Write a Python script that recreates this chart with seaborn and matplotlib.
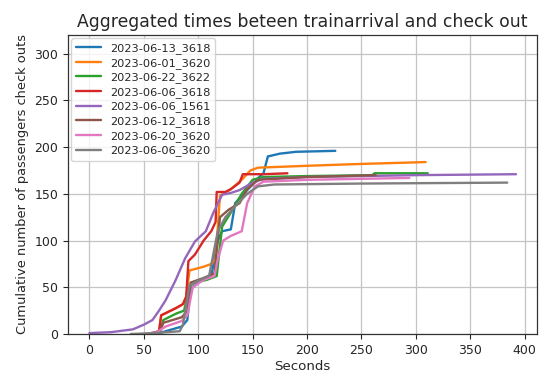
import matplotlib
matplotlib.use("Agg")
import matplotlib.pyplot as plt
import seaborn as sns
import pandas as pd

labels = ["2023-06-13_3618", "2023-06-01_3620", "2023-06-22_3622", "2023-06-06_3618",
          "2023-06-06_1561", "2023-06-12_3618", "2023-06-20_3620", "2023-06-06_3620"]

t_13_3618 = [62, 70, 85, 90, 93, 100, 112, 118, 122, 130, 134, 140, 150, 156, 160, 164, 175, 190, 226]
v_13_3618 = [0, 3, 8, 15, 48, 55, 62, 100, 110, 112, 140, 148, 160, 168, 172, 190, 193, 195, 196]

t_01_3620 = [55, 64, 66, 80, 86, 89, 92, 105, 112, 116, 120, 130, 140, 148, 155, 200, 250, 309]
v_01_3620 = [0, 3, 20, 28, 32, 40, 68, 72, 75, 80, 148, 155, 165, 175, 178, 180, 182, 184]

t_22_3622 = [55, 65, 68, 80, 87, 92, 96, 108, 117, 122, 130, 140, 150, 160, 200, 260, 262, 311]
v_22_3622 = [0, 3, 15, 22, 25, 50, 55, 58, 62, 115, 130, 150, 165, 168, 169, 170, 172, 172]

t_06_3618 = [55, 64, 66, 80, 86, 89, 91, 97, 105, 112, 116, 117, 125, 130, 138, 141, 160, 182]
v_06_3618 = [0, 3, 20, 28, 32, 40, 78, 85, 100, 110, 120, 152, 152, 155, 162, 171, 171, 172]

t_06_1561 = [0, 20, 40, 50, 58, 64, 70, 79, 88, 97, 107, 114, 122, 130, 138, 150, 160, 200, 300, 392]
v_06_1561 = [1, 2, 5, 10, 15, 25, 36, 57, 81, 99, 110, 130, 149, 151, 154, 162, 166, 168, 170, 171]

t_12_3618 = [55, 65, 68, 85, 90, 93, 105, 115, 120, 128, 138, 145, 155, 200, 263]
v_12_3618 = [0, 3, 12, 18, 25, 55, 60, 65, 125, 133, 140, 155, 165, 168, 170]

t_20_3620 = [50, 62, 70, 85, 90, 95, 105, 115, 118, 123, 130, 140, 145, 152, 160, 200, 294]
v_20_3620 = [0, 2, 8, 14, 20, 50, 58, 62, 80, 100, 105, 110, 140, 158, 163, 165, 167]

t_06_3620 = [38, 60, 83, 86, 92, 100, 110, 118, 125, 135, 145, 155, 170, 250, 384]
v_06_3620 = [0, 1, 3, 10, 52, 57, 62, 110, 125, 138, 150, 158, 160, 161, 162]

series_t = [t_13_3618, t_01_3620, t_22_3622, t_06_3618, t_06_1561, t_12_3618, t_20_3620, t_06_3620]
series_v = [v_13_3618, v_01_3620, v_22_3622, v_06_3618, v_06_1561, v_12_3618, v_20_3620, v_06_3620]

rows = []
for lab, ts, vs in zip(labels, series_t, series_v):
    for i, (t, v) in enumerate(zip(ts, vs)):
        rows.append({"series": lab, "Seconds": t, "count": v, "order": i})
df = pd.DataFrame(rows)

sns.set_theme(style="ticks", rc={"axes.grid": True, "grid.color": "#c4c4c4", "grid.linewidth": 0.9})
plt.rcParams["font.family"] = ["DejaVu Sans"]

fig = plt.figure(figsize=(5.4, 3.8), dpi=100)
ax = fig.add_axes([0.126, 0.121, 0.869, 0.787])
sns.lineplot(data=df, x="Seconds", y="count", hue="series", hue_order=labels,
             palette="tab10", sort=False, estimator=None, units="series",
             linewidth=1.7, ax=ax)
ax.set_xlim(-19.6, 411.6)
ax.set_ylim(0, 320)
ax.set_xticks([0, 50, 100, 150, 200, 250, 300, 350, 400])
ax.set_yticks([0, 50, 100, 150, 200, 250, 300])
ax.tick_params(labelsize=9, length=3.5, width=0.8)
ax.set_xlabel("Seconds", fontsize=9.6, labelpad=2)
ax.set_ylabel("Cumulative number of passengers check outs", fontsize=9.4)
ax.set_title("Aggregated times beteen trainarrival and check out", fontsize=12.4)
for s in ax.spines.values():
    s.set_color("#333333")
    s.set_linewidth(0.9)
leg = ax.legend(loc="upper left", fontsize=8.2, frameon=True, handlelength=2.2,
                labelspacing=0.33, borderaxespad=0.3)
leg.get_frame().set_edgecolor("#cccccc")
fig.savefig("out.png", dpi=100)
